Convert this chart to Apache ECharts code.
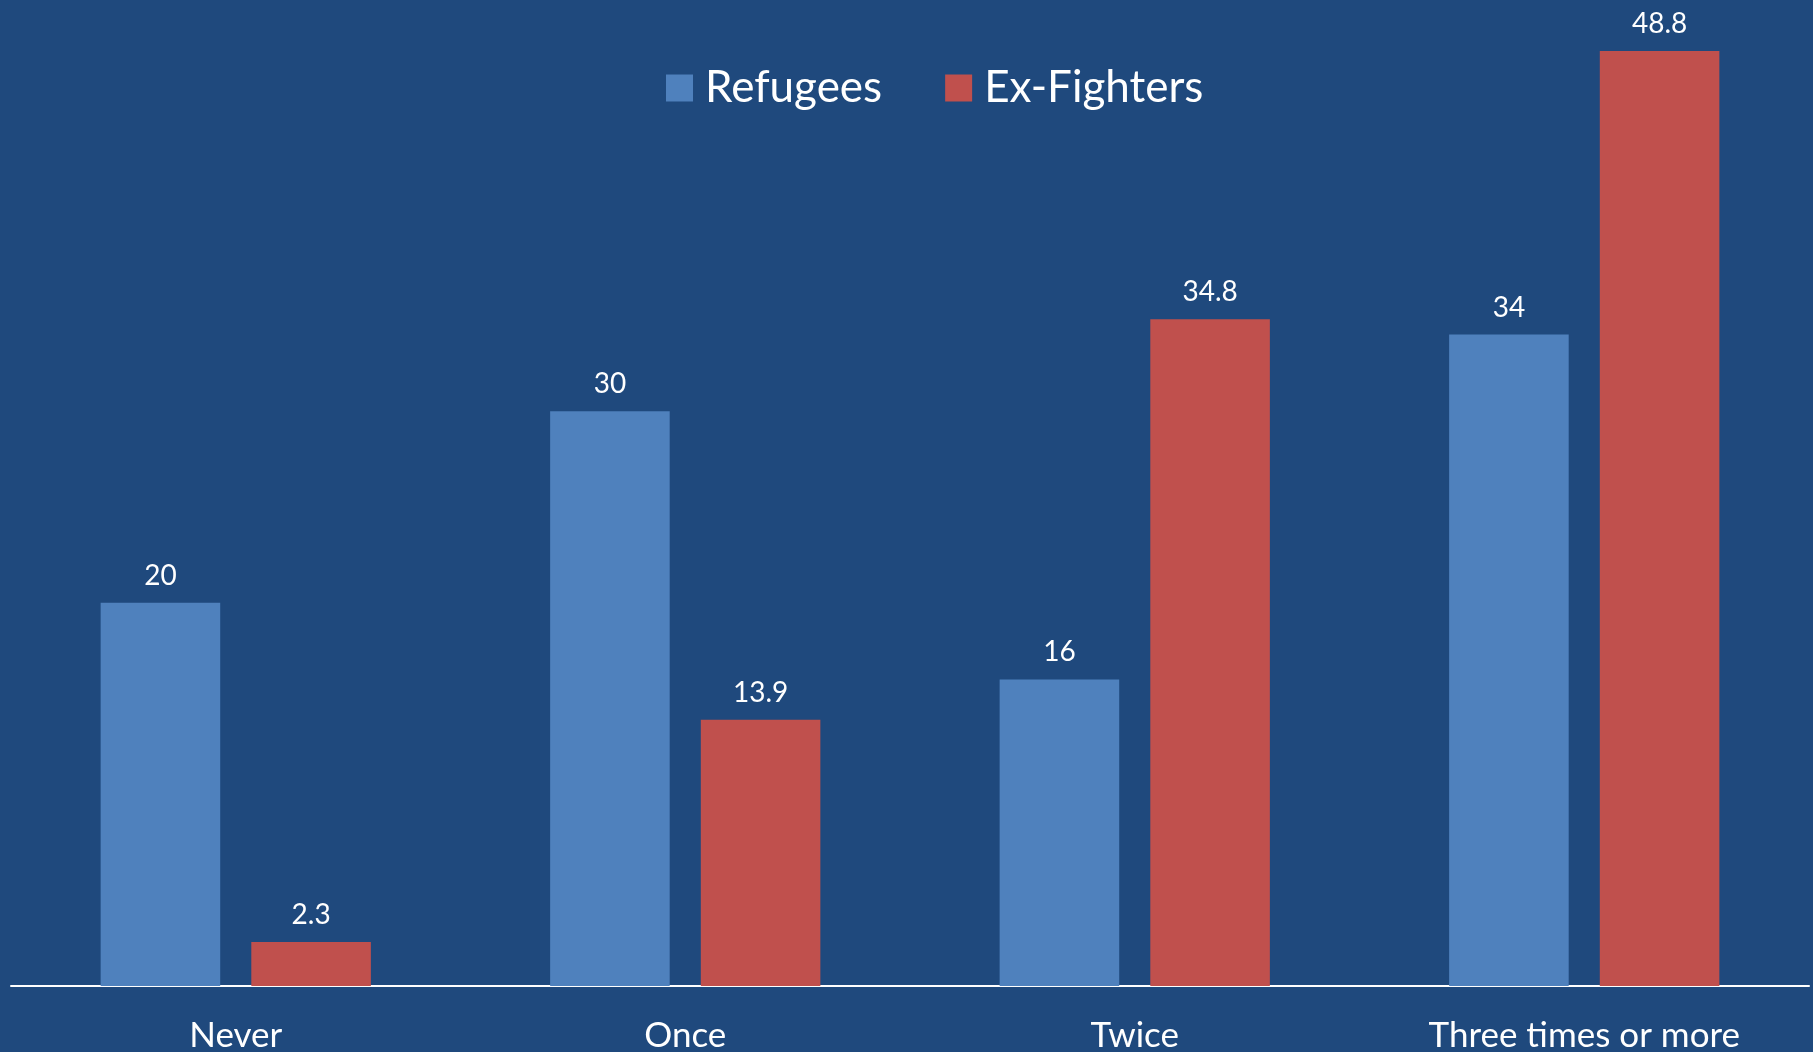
<!DOCTYPE html>
<html>
<head>
<meta charset="utf-8">
<script src="https://cdn.jsdelivr.net/npm/echarts@6/dist/echarts.min.js"></script>
<style>
html,body{margin:0;padding:0;background:#1F497D;}
#chart{width:1813px;height:1052px;}
</style>
</head>
<body>
<div id="chart"></div>
<script>
const categories = ['Never', 'Once', 'Twice', 'Three times or more'];
const refugees = [20, 30, 16, 34];
const exFighters = [2.3, 13.9, 34.8, 48.8];
const seriesNames = ['Refugees', 'Ex-Fighters'];

const chart = echarts.init(document.getElementById('chart'));
const FONT = 'Lato';
const labelStyle = {
  show: true, position: 'top', distance: 13,
  color: '#ffffff', fontFamily: FONT, fontSize: 28
};
chart.setOption({
  backgroundColor: '#1F497D',
  animation: false,
  legend: {
    left: 666, top: 66, padding: 0,
    itemWidth: 27, itemHeight: 27, itemGap: 63,
    icon: 'rect',
    textStyle: { color: '#ffffff', fontFamily: FONT, fontSize: 44, padding: [0, 0, 0, 7] },
    data: seriesNames
  },
  grid: { left: 11, right: 4, top: 28, bottom: 66, containLabel: false, outerBoundsMode: 'none' },
  xAxis: {
    type: 'category', data: categories,
    axisLine: { lineStyle: { color: '#ffffff', width: 2 } },
    axisTick: { show: false },
    axisLabel: { color: '#ffffff', fontFamily: FONT, fontSize: 35, margin: 32 }
  },
  yAxis: { type: 'value', min: 0, max: 50, show: false, splitLine: { show: false } },
  series: [
    { name: seriesNames[0], type: 'bar', data: refugees, barWidth: '26.6%', barGap: '26%',
      itemStyle: { color: '#4F81BD' }, label: labelStyle },
    { name: seriesNames[1], type: 'bar', data: exFighters, barWidth: '26.6%', barGap: '26%',
      itemStyle: { color: '#C0504D' }, label: labelStyle }
  ]
});
</script>
</body>
</html>
